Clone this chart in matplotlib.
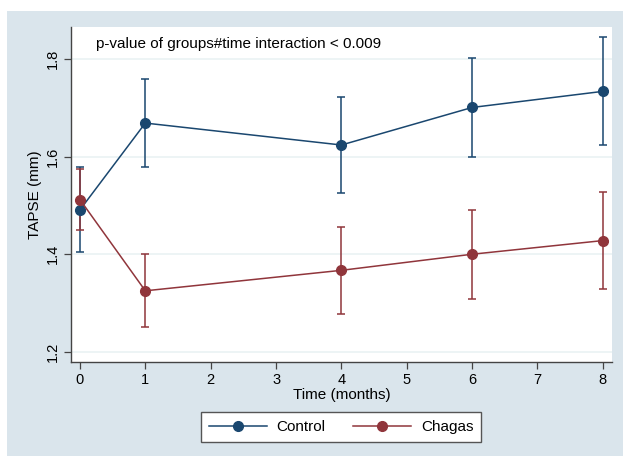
import matplotlib
matplotlib.use("Agg")
import matplotlib.pyplot as plt
from matplotlib.patches import Rectangle

plt.rcParams['font.family'] = ['Liberation Sans', 'DejaVu Sans']

# data
months = [0, 1, 4, 6, 8]
control_mean = [1.491, 1.669, 1.624, 1.701, 1.734]
control_lo = [1.404, 1.578, 1.525, 1.599, 1.623]
control_hi = [1.578, 1.759, 1.723, 1.803, 1.845]
chagas_mean = [1.512, 1.325, 1.367, 1.400, 1.428]
chagas_lo = [1.449, 1.250, 1.278, 1.309, 1.328]
chagas_hi = [1.575, 1.400, 1.456, 1.490, 1.527]
y_ticks = [1.2, 1.4, 1.6, 1.8]
x_ticks = list(range(9))

navy = '#1a476f'
maroon = '#90353b'
bg = '#dae5ec'

fig = plt.figure(figsize=(6.23, 4.58), dpi=100)
fig.patch.set_facecolor('white')
fig.patches.append(Rectangle((7 / 623, 2 / 458), 1 - 7 / 623, 445 / 458,
                             transform=fig.transFigure, facecolor=bg,
                             edgecolor='none', zorder=-5))

ax = fig.add_axes([71 / 623, 1 - 362 / 458, (612 - 71) / 623, (362 - 27) / 458])
ax.set_zorder(2)
ax.set_facecolor('white')

for mean, lo, hi, col, name in [(control_mean, control_lo, control_hi, navy, 'Control'),
                                (chagas_mean, chagas_lo, chagas_hi, maroon, 'Chagas')]:
    err = [[m - l for m, l in zip(mean, lo)], [h - m for m, h in zip(mean, hi)]]
    ax.errorbar(months, mean, yerr=err, fmt='none', ecolor=col, elinewidth=1.1,
                capsize=3, capthick=1.1, zorder=3)
    ax.plot(months, mean, color=col, lw=1.1, marker='o', markersize=7,
            label=name, zorder=4)

ax.set_xlim(-0.137, 8.14)
ax.set_ylim(1.179, 1.866)
ax.set_xticks(x_ticks)
ax.set_yticks(y_ticks)
ax.set_yticklabels([str(t) for t in y_ticks], rotation=90, va='center')
ax.grid(axis='y', color='#eaf2f3', lw=1.2)
ax.set_axisbelow(True)
for s in ['top', 'right']:
    ax.spines[s].set_visible(False)
for s in ['left', 'bottom']:
    ax.spines[s].set_color('#444444')
    ax.spines[s].set_linewidth(1.0)
ax.tick_params(direction='out', length=5, width=0.9, color='#444444',
               labelsize=10.5, pad=3)

ax.set_xlabel('Time (months)', fontsize=11, labelpad=1)
ax.set_ylabel('TAPSE (mm)', fontsize=11, labelpad=3)

ax.text(0.046, 0.949, 'p-value of groups#time interaction < 0.009', transform=ax.transAxes,
        fontsize=11, va='center', ha='left')

leg = fig.legend(loc='center', bbox_to_anchor=(341 / 623, 1 - 427 / 458), ncol=2,
                 frameon=True, fancybox=False, fontsize=11, handlelength=3.8,
                 handletextpad=0.65, columnspacing=1.8, borderpad=0.5,
                 framealpha=1, facecolor='white')
leg.get_frame().set_edgecolor('#555555')
leg.get_frame().set_linewidth(1.0)

fig.savefig('out.png', dpi=100)
